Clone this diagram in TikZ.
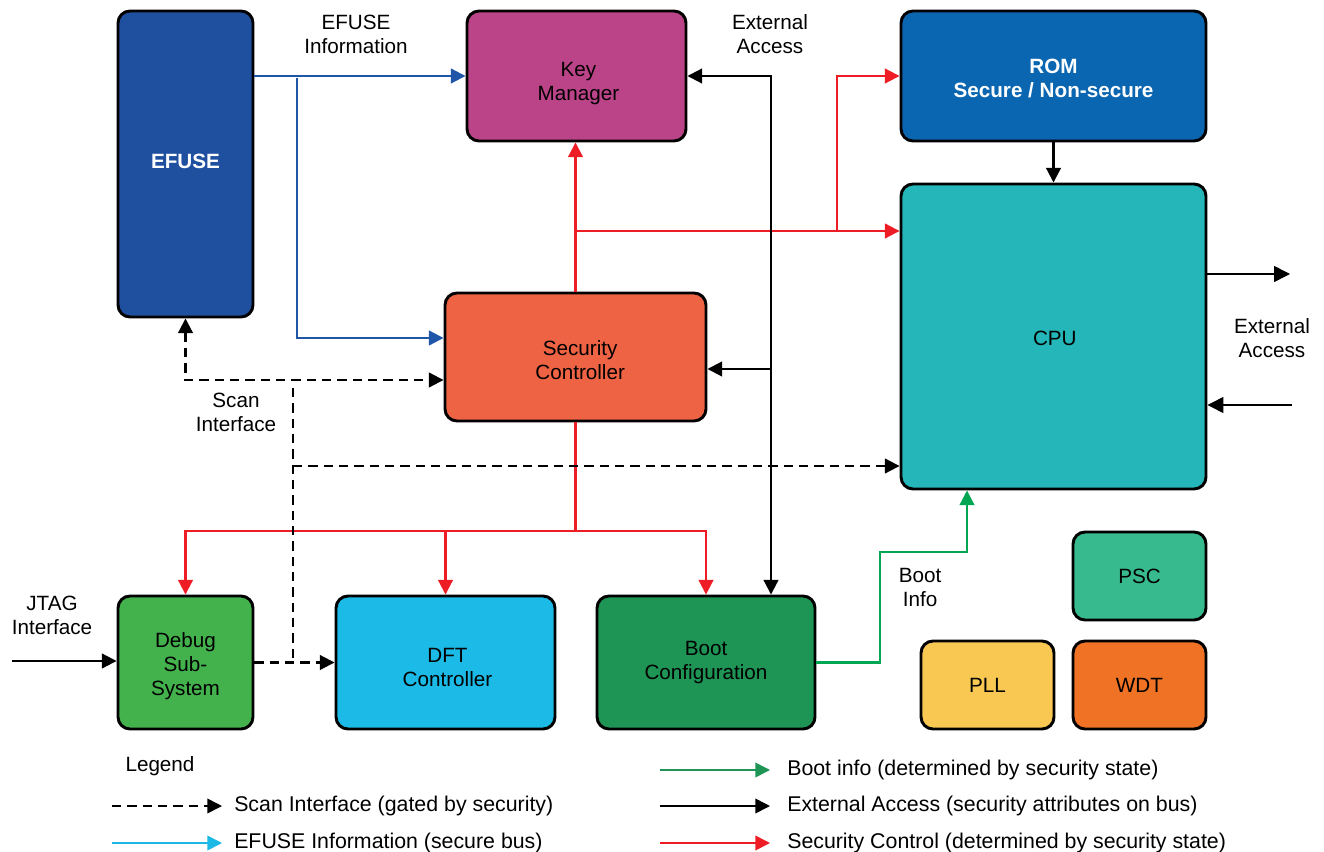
\documentclass[tikz,border=0pt]{standalone}
\usepackage{fontspec}
\setmainfont{Liberation Sans}
\usetikzlibrary{arrows.meta,calc}

\definecolor{cEfuse}{HTML}{1F4F9F}
\definecolor{cKey}{HTML}{BB4489}
\definecolor{cRom}{HTML}{0B66B1}
\definecolor{cCpu}{HTML}{24B6B8}
\definecolor{cSec}{HTML}{EE6343}
\definecolor{cDbg}{HTML}{44B24C}
\definecolor{cDft}{HTML}{1CBAE6}
\definecolor{cBoot}{HTML}{1F9555}
\definecolor{cPsc}{HTML}{38BA8F}
\definecolor{cPll}{HTML}{F9C852}
\definecolor{cWdt}{HTML}{F07325}
\definecolor{lRed}{HTML}{EE1C24}
\definecolor{lBlue}{HTML}{1F56A8}
\definecolor{lGreen}{HTML}{00A651}
\definecolor{lgGreen}{HTML}{1E9455}
\definecolor{lgCyan}{HTML}{1DB9E6}

\begin{document}
\begin{tikzpicture}[x=0.75pt,y=-0.75pt,
  font=\fontsize{15.5}{18}\selectfont,
  blk/.style 2 args={draw=black, line width=2.2pt, rounded corners=9pt,
    inner sep=0pt, minimum width=#1*0.75pt, minimum height=#2*0.75pt},
  txt/.style={align=center, inner sep=0pt},
  bold/.style={text=white, font=\fontsize{15.5}{18}\selectfont\bfseries},
  tip/.style={-{Triangle[length=11pt,width=11pt]}},
  both/.style={{Triangle[length=11pt,width=11pt]}-{Triangle[length=11pt,width=11pt]}},
  conn/.style={line width=1.6pt},
  redc/.style={conn, draw=lRed, tip},
  bluec/.style={conn, draw=lBlue, tip},
  grnc/.style={conn, draw=lGreen, tip},
  extc/.style={conn, draw=black, tip},
  extthin/.style={line width=1.1pt, draw=black, -{Triangle[length=12pt,width=12pt]}},
  scanpat/.style={dash pattern=on 7pt off 4.5pt},
  scanc/.style={line width=1.6pt, draw=black, scanpat, tip},
  lab/.style={align=center, inner sep=0pt},
  lgline/.style={line width=1.2pt, -{Triangle[length=11pt,width=11pt]}},
  lgtext/.style={anchor=west, inner sep=0pt, font=\fontsize{16}{18}\selectfont}]
\useasboundingbox (0,0) rectangle (1324,852);

% blocks, each with its caption set as a centred label
\node[blk={135}{306}, fill=cEfuse, label={[txt, bold, yshift=2pt]center:EFUSE}] (efuse) at (185.5,164) {};
\node[blk={219}{130}, fill=cKey, label={[txt, xshift=1.5pt, yshift=-6pt]center:Key\\Manager}] (km) at (576.5,76) {};
\node[blk={305}{130}, fill=cRom, label={[txt, bold, yshift=-1.5pt]center:ROM\\Secure / Non-secure}] (rom) at (1053.5,76) {};
\node[blk={305}{305}, fill=cCpu, label={[txt, xshift=1pt, yshift=-1.5pt]center:CPU}] (cpu) at (1053.5,336.5) {};
\node[blk={261}{128}, fill=cSec, label={[txt, xshift=3.5pt, yshift=-2pt]center:Security\\Controller}] (sc) at (575.5,357) {};
\node[blk={135}{133}, fill=cDbg, label={[txt, yshift=-2.5pt]center:Debug\\Sub-\\System}] (debug) at (185.5,662.5) {};
\node[blk={219}{133}, fill=cDft, label={[txt, xshift=1.5pt, yshift=-4pt]center:DFT\\Controller}] (dft) at (445.5,662.5) {};
\node[blk={218}{133}, fill=cBoot, label={[txt]center:Boot\\Configuration}] (boot) at (706,662.5) {};
\node[blk={133}{88}, fill=cPsc, label={[txt]center:PSC}] (psc) at (1139.5,576) {};
\node[blk={133}{88}, fill=cPll, label={[txt]center:PLL}] (pll) at (987.5,685) {};
\node[blk={133}{88}, fill=cWdt, label={[txt]center:WDT}] (wdt) at (1139.5,685) {};

% junctions and free ends
\coordinate (jb) at (297,78);
\coordinate (jr) at (837,231);
\coordinate (ea) at (771,78);
\coordinate (dv) at (293,388);
\coordinate (g1) at (880,552);
\coordinate (g2) at (967,552);
\coordinate (jt) at (12,661);
\coordinate (o1) at (1290,274);
\coordinate (i1) at (1292,405);

% EFUSE information
\draw[bluec] (efuse.east |- km.west) -- (km.west);
\draw[bluec] (jb) |- ($(sc.west)+(0,-19)$);

% security control
\draw[redc] (sc.north) -- (sc.north |- km.south);
\draw[redc] (sc.north |- jr) -- (cpu.west |- jr);
\draw[redc] (jr) |- (rom.west);
\draw[conn, draw=lRed] (sc.south) -- (sc.south |- 0,531);
\draw[redc] (sc.south |- 0,531) -| (debug.north);
\draw[redc] (sc.south |- 0,531) -| (dft.north);
\draw[redc] (sc.south |- 0,531) -| (boot.north);

% external access
\draw[extc, both] (km.east) -- (km.east -| ea) -- (ea |- boot.north);
\draw[extc] (ea |- 0,369) -- ($(sc.east)+(0,12)$);
\draw[extc] (rom.south) -- (cpu.north);
\draw[extthin] (cpu.east |- o1) -- (o1);
\draw[extthin] (i1) -- (cpu.east |- i1);
\draw[extc] (jt) -- (debug.west |- jt);

% scan interface
\draw[scanc, both] (efuse.south) |- ($(sc.west)+(0,23)$);
\draw[line width=1.6pt, scanpat] (dv) -- (dv |- debug.east);
\draw[scanc] (dv |- 0,466) -- (cpu.west |- 0,466);
\draw[scanc] (debug.east) -- (dft.west);

% boot info
\draw[grnc] (boot.east) -| (g1) -- (g2) -- (g2 |- cpu.south);

% labels
\node[lab] (l1) at (356,34) {EFUSE\\Information};
\node[lab] (l2) at (770,34) {External\\Access};
\node[lab] (l3) at (1272,338) {External\\Access};
\node[lab] (l4) at (236,412) {Scan\\Interface};
\node[lab] (l5) at (920,587) {Boot\\Info};
\node[lab] (l6) at (52,615) {JTAG\\Interface};

% legend
\node[lab] (lg) at (160,766) {Legend};
\coordinate (a1) at (112,806); \coordinate (b1) at (222,806);
\coordinate (a2) at (112,843); \coordinate (b2) at (222,843);
\coordinate (a3) at (660,770); \coordinate (b3) at (770,770);
\coordinate (a4) at (660,806); \coordinate (b4) at (770,806);
\coordinate (a5) at (660,843); \coordinate (b5) at (770,843);
\draw[lgline, scanpat] (a1) -- (b1);
\draw[lgline, draw=lgCyan] (a2) -- (b2);
\draw[lgline, draw=lgGreen] (a3) -- (b3);
\draw[lgline, draw=black] (a4) -- (b4);
\draw[lgline, draw=lRed] (a5) -- (b5);
\node[lgtext] (t1) at (234,806) {Scan Interface (gated by security)};
\node[lgtext] (t2) at (234,843) {EFUSE Information (secure bus)};
\node[lgtext] (t3) at (787,770) {Boot info (determined by security state)};
\node[lgtext] (t4) at (787,806) {External Access (security attributes on bus)};
\node[lgtext] (t5) at (787,843) {Security Control (determined by security state)};
\end{tikzpicture}
\end{document}
